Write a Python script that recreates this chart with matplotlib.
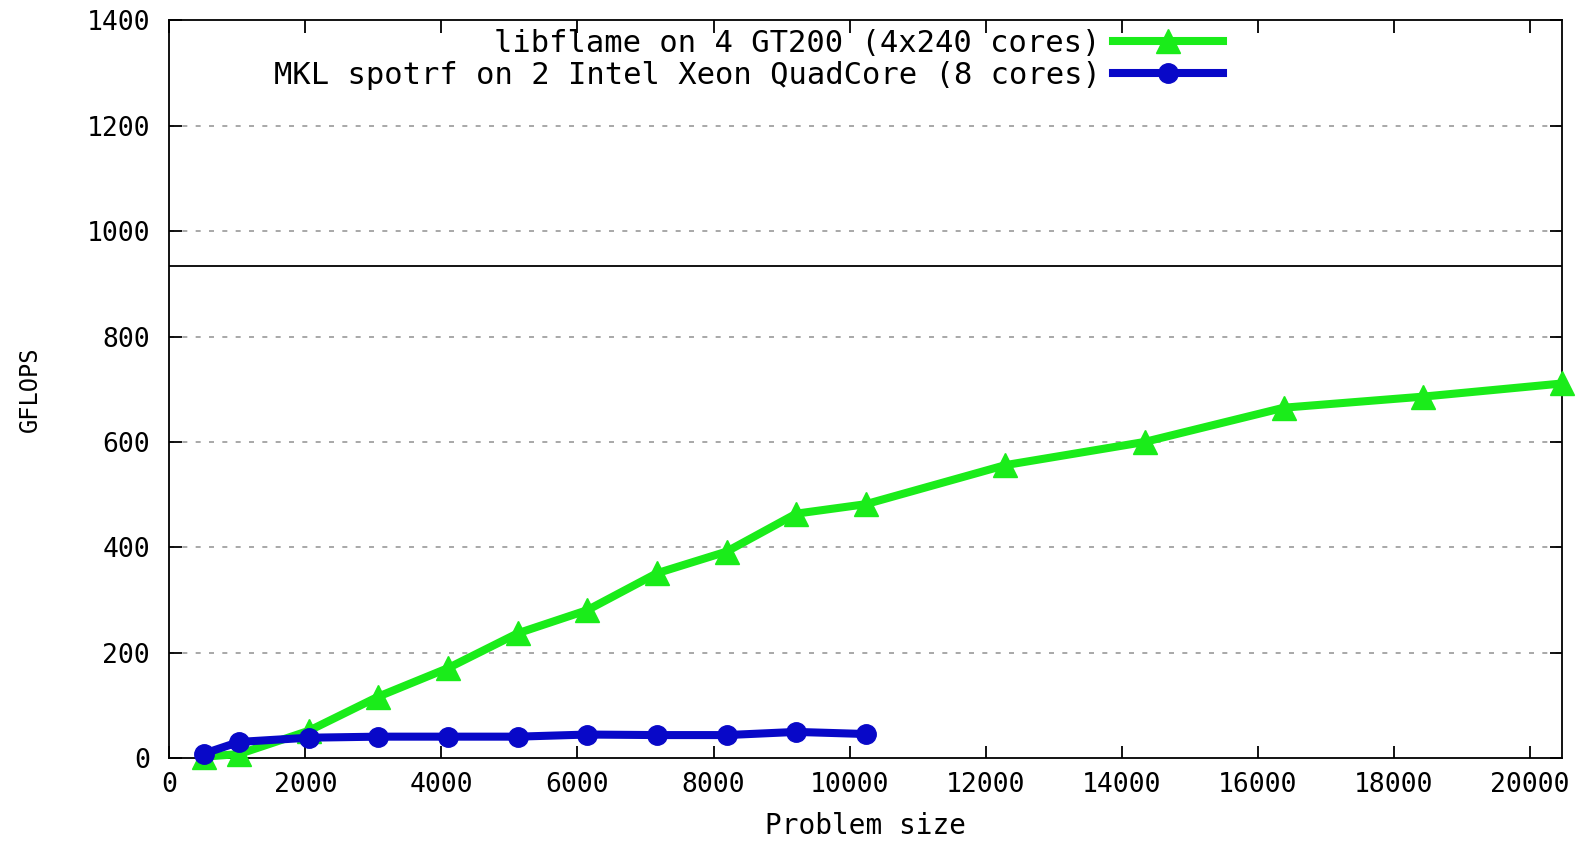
import matplotlib
matplotlib.use('Agg')
import matplotlib.pyplot as plt

sizes_gpu = [512, 1024, 2048, 3072, 4096, 5120, 6144, 7168, 8192, 9216, 10240,
             12288, 14336, 16384, 18432, 20480]
gflops_gpu = [3, 8, 52, 117, 171, 237, 281, 351, 392, 464, 482,
              556, 600, 665, 686, 711]

sizes_cpu = [512, 1024, 2048, 3072, 4096, 5120, 6144, 7168, 8192, 9216, 10240]
gflops_cpu = [9, 31, 39, 41, 41, 41, 45, 44, 44, 50, 46]

peak = 933

labels = ['libflame on 4 GT200 (4x240 cores)',
          'MKL spotrf on 2 Intel Xeon QuadCore (8 cores)']

xticks = list(range(0, 20001, 2000))
yticks = list(range(0, 1401, 200))

mono = 'DejaVu Sans Mono'

fig = plt.figure(figsize=(15.83, 8.46), dpi=100)
ax = fig.add_axes([0.107, 0.1037, 0.880, 0.8724])

ax.plot(sizes_gpu, gflops_gpu, color='#1aec1a', lw=5.8, marker='^', ms=17,
        label=labels[0], clip_on=False, zorder=3)
ax.plot(sizes_cpu, gflops_cpu, color='#0808c8', lw=5.8, marker='o', ms=14,
        label=labels[1], clip_on=False, zorder=4)

# peak line
ax.axhline(peak, color='black', lw=1.3, zorder=2)

ax.set_xlim(0, 20480)
ax.set_ylim(0, 1400)
ax.set_xticks(xticks)
ax.set_yticks(yticks)
for y in yticks[1:-1]:
    ax.axhline(y, color='#999999', lw=1.2, ls=(0, (3, 5)), zorder=1)

ax.tick_params(direction='in', length=9, width=1.3, top=True, right=True,
               labelsize=19)
ax.tick_params(axis='y', pad=14)
ax.tick_params(axis='x', pad=10)
for lab in ax.get_xticklabels() + ax.get_yticklabels():
    lab.set_family(mono)
for s in ax.spines.values():
    s.set_linewidth(1.3)

ax.set_xlabel('Problem size', family=mono, fontsize=20, labelpad=10)
ax.set_ylabel('GFLOPS', family=mono, fontsize=17, labelpad=32)

leg = ax.legend(loc='upper right', bbox_to_anchor=(0.776, 1.026), frameon=False,
                markerfirst=False, numpoints=1, handlelength=3.6,
                prop={'family': mono, 'size': 22}, labelspacing=0.1,
                borderaxespad=0.5, handletextpad=0.4)

fig.savefig('out.png', dpi=100)
